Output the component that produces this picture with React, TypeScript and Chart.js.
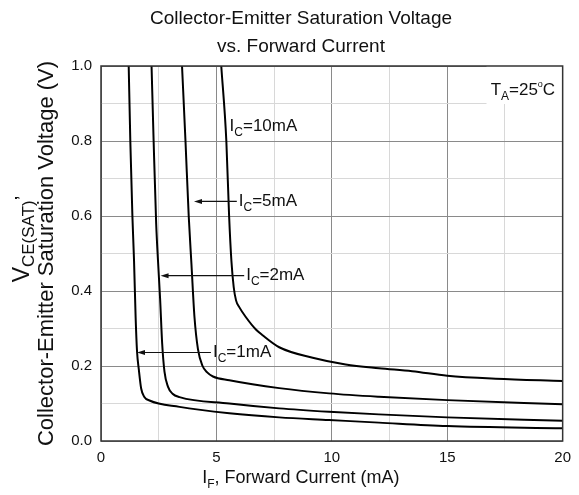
import React, { useEffect, useRef } from "react";
import { Chart, registerables } from "chart.js";

Chart.register(...registerables);

const FONT = '"Liberation Sans", Arial, Helvetica, sans-serif';

// ---- data ----
const seriesNames = ["IC=1mA", "IC=2mA", "IC=5mA", "IC=10mA"];

const if_1mA = [1.2, 1.27, 1.36, 1.43, 1.5, 1.56, 1.64, 1.74, 1.87, 2.1, 3.4, 5.56, 7.72, 9.88, 12.04, 15, 20];
const vce_1mA = [1.0, 0.8, 0.6, 0.483, 0.33, 0.24, 0.19, 0.14, 0.118, 0.108, 0.091, 0.074, 0.063, 0.056, 0.049, 0.04, 0.034];

const if_2mA = [2.19, 2.28, 2.39, 2.47, 2.56, 2.65, 2.75, 2.9, 3.1, 3.4, 5.56, 7.72, 9.88, 12.04, 15, 20];
const vce_2mA = [1.0, 0.8, 0.58, 0.48, 0.38, 0.26, 0.185, 0.145, 0.126, 0.117, 0.1, 0.087, 0.078, 0.071, 0.063, 0.054];

const if_5mA = [3.51, 3.66, 3.8, 3.92, 4.05, 4.2, 4.4, 4.6, 4.85, 5.56, 7.72, 9.88, 12.04, 15, 20];
const vce_5mA = [1.0, 0.8, 0.6, 0.47, 0.33, 0.245, 0.2, 0.183, 0.172, 0.162, 0.141, 0.127, 0.118, 0.109, 0.098];

const if_10mA = [5.21, 5.43, 5.55, 5.65, 5.75, 5.85, 5.99, 6.28, 6.7, 7.0, 7.72, 9.17, 10.6, 12.04, 13.48, 15, 17.1, 20];
const vce_10mA = [1.0, 0.8, 0.6, 0.48, 0.41, 0.375, 0.357, 0.33, 0.298, 0.282, 0.25, 0.222, 0.204, 0.194, 0.186, 0.174, 0.166, 0.16];

const xTickLabels = ["0", "5", "10", "15", "20"];
const yTickLabels = ["0.0", "0.2", "0.4", "0.6", "0.8", "1.0"];

const seriesX = [if_1mA, if_2mA, if_5mA, if_10mA];
const seriesY = [vce_1mA, vce_2mA, vce_5mA, vce_10mA];

type Part = [string, number, number];

function richWidth(ctx: CanvasRenderingContext2D, parts: Part[]) {
  let w = 0;
  for (const p of parts) {
    ctx.font = `${p[1]}px ${FONT}`;
    w += ctx.measureText(p[0]).width;
  }
  return w;
}

function drawRich(ctx: CanvasRenderingContext2D, parts: Part[], x: number, y: number, align: "left" | "center") {
  const w = richWidth(ctx, parts);
  let cx = align === "center" ? x - w / 2 : x;
  ctx.textAlign = "left";
  ctx.textBaseline = "alphabetic";
  for (const p of parts) {
    ctx.font = `${p[1]}px ${FONT}`;
    ctx.fillText(p[0], cx, y + p[2]);
    cx += ctx.measureText(p[0]).width;
  }
}

const overlayPlugin = {
  id: "overlay",
  beforeDatasetsDraw(chart: any) {
    const { ctx, chartArea } = chart;
    const xs = chart.scales.x;
    const ys = chart.scales.y;
    // white box behind temperature note
    const bx = xs.getPixelForValue(16.7);
    const by = ys.getPixelForValue(0.9) + 0.5;
    ctx.save();
    ctx.fillStyle = "#ffffff";
    ctx.fillRect(bx, chartArea.top, chartArea.right - bx, by - chartArea.top);
    ctx.restore();
  },
  afterDraw(chart: any) {
    const { ctx, chartArea } = chart;
    const xs = chart.scales.x;
    const ys = chart.scales.y;
    const { left, right, top, bottom } = chartArea;
    ctx.save();
    // frame
    ctx.strokeStyle = "#333333";
    ctx.lineWidth = 1.5;
    ctx.strokeRect(left, top, right - left, bottom - top);

    ctx.fillStyle = "#111111";
    // title
    const titleX = 301;
    drawRich(ctx, [["Collector-Emitter Saturation Voltage", 19, 0]], titleX, 24, "center");
    drawRich(ctx, [["vs. Forward Current", 19, 0]], titleX, 52, "center");

    // x axis title
    drawRich(ctx, [["I", 18, 0], ["F", 12, 5], [", Forward Current (mA)", 18, 0]], (left + right) / 2 - 31, 483, "center");

    // y axis title (rotated)
    ctx.save();
    ctx.translate(53, (top + bottom) / 2);
    ctx.rotate(-Math.PI / 2);
    drawRich(ctx, [["Collector-Emitter Saturation Voltage (V)", 22, 0]], 0, 0, "center");
    ctx.restore();
    ctx.save();
    ctx.translate(29, 239);
    ctx.rotate(-Math.PI / 2);
    drawRich(ctx, [["V", 23, 0], ["CE(SAT)", 17, 5], ["\u2019", 21, 0]], 0, 0, "center");
    ctx.restore();

    // temperature note
    drawRich(ctx, [["T", 17, 0], ["A", 12, 5], ["=25", 17, 0], ["o", 9, -8], ["C", 17, 0]],
      xs.getPixelForValue(16.88), ys.getPixelForValue(0.923), "left");

    // curve labels and arrows
    const labels: { name: string; tx: number; ty: number; tip: number | null }[] = [
      { name: "10mA", tx: 5.57, ty: 0.827, tip: null },
      { name: "5mA", tx: 5.97, ty: 0.627, tip: 4.03 },
      { name: "2mA", tx: 6.29, ty: 0.429, tip: 2.58 },
      { name: "1mA", tx: 4.85, ty: 0.224, tip: 1.56 },
    ];
    for (const l of labels) {
      const px = xs.getPixelForValue(l.tx);
      const py = ys.getPixelForValue(l.ty);
      ctx.fillStyle = "#111111";
      drawRich(ctx, [["I", 17, 0], ["C", 12, 5], ["=" + l.name, 17, 0]], px, py, "left");
      if (l.tip !== null) {
        const tipX = xs.getPixelForValue(l.tip);
        const ay = py - 4.5;
        ctx.strokeStyle = "#111111";
        ctx.lineWidth = 1.2;
        ctx.beginPath();
        ctx.moveTo(px - 2, ay);
        ctx.lineTo(tipX + 6, ay);
        ctx.stroke();
        ctx.beginPath();
        ctx.moveTo(tipX, ay);
        ctx.lineTo(tipX + 8, ay - 2.5);
        ctx.lineTo(tipX + 8, ay + 2.5);
        ctx.closePath();
        ctx.fill();
      }
    }
    ctx.restore();
  },
};

export default function App() {
  const ref = useRef<HTMLCanvasElement | null>(null);
  useEffect(() => {
    if (!ref.current) return;
    const datasets = seriesX.map((xsArr, i) => ({
      label: seriesNames[i],
      data: xsArr.map((x, j) => ({ x, y: seriesY[i][j] })),
      borderColor: "#000000",
      backgroundColor: "#000000",
      borderWidth: 2,
      pointRadius: 0,
      showLine: true,
      fill: false,
      cubicInterpolationMode: "monotone" as const,
    }));
    const chart = new Chart(ref.current, {
      type: "scatter",
      data: { datasets },
      options: {
        animation: false,
        responsive: true,
        maintainAspectRatio: false,
        layout: { padding: { left: 0, top: 66, right: 15, bottom: 0 } },
        plugins: {
          legend: { display: false },
          title: { display: false },
          tooltip: { enabled: false },
        },
        scales: {
          x: {
            type: "linear",
            min: 0,
            max: 20,
            afterFit: (s: any) => { s.height = 54; },
            border: { display: false },
            grid: {
              drawTicks: false,
              lineWidth: 1,
              color: (c: any) => (Math.round(c.tick.value * 2) % 10 === 0 ? "#8a8a8a" : "#d8d8d8"),
            },
            ticks: {
              stepSize: 2.5,
              autoSkip: false,
              maxRotation: 0,
              padding: 8,
              color: "#111111",
              font: { family: FONT, size: 15 },
              callback: (v: any) => {
                const n = Number(v);
                return Math.round(n * 2) % 10 === 0 ? xTickLabels[Math.round(n / 5)] : "";
              },
            },
          },
          y: {
            type: "linear",
            min: 0,
            max: 1,
            afterFit: (s: any) => { s.width = 101; },
            border: { display: false },
            grid: {
              drawTicks: false,
              lineWidth: 1,
              color: (c: any) => (Math.round(c.tick.value * 10) % 2 === 0 ? "#8a8a8a" : "#d8d8d8"),
            },
            ticks: {
              stepSize: 0.1,
              autoSkip: false,
              padding: 9,
              color: "#111111",
              font: { family: FONT, size: 15 },
              callback: (v: any) => {
                const k = Math.round(Number(v) * 10);
                return k % 2 === 0 ? yTickLabels[k / 2] : "";
              },
            },
          },
        },
      },
      plugins: [overlayPlugin],
    });
    return () => chart.destroy();
  }, []);
  return (
    <div style={{ position: "fixed", left: 0, top: 0, width: 579, height: 495, background: "#ffffff" }}>
      <canvas ref={ref} />
    </div>
  );
}
